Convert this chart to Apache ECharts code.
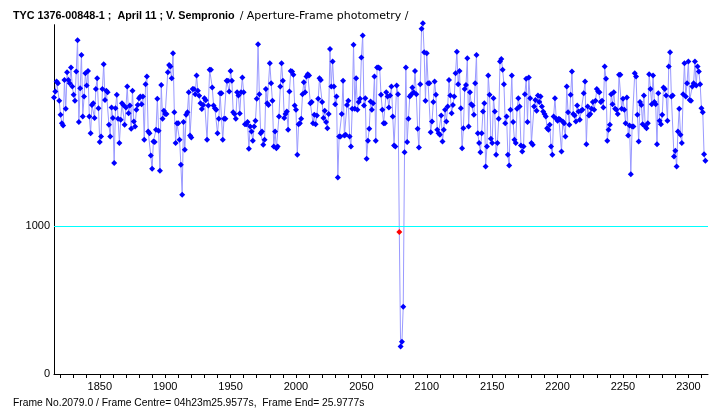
<!DOCTYPE html>
<html>
<head>
<meta charset="utf-8">
<title>TYC 1376-00848-1 light curve</title>
<script src="https://cdn.jsdelivr.net/npm/echarts@6/dist/echarts.min.js"></script>
<style>
  html, body { margin: 0; padding: 0; background: #fff; }
  #curve { width: 713px; height: 408px; }
</style>
</head>
<body>
<div id="curve"></div>
<script>
// First frame of the run; one flux reading per frame after that
var firstFrame = 1815;

// Flux readings, frames 1815 .. 2313
var flux = [
    // 1815 - 1935
    1868, 1909, 1976, 1965, 1846, 1751, 1695, 1679, 1987, 1792, 2039, 1987, 1965, 2070, 1942, 1886,
    1846, 2044, 2255, 1702, 1931, 2156, 1740, 1875, 2032, 1949, 2048, 1740, 1627, 1818, 1830, 1729,
    1926, 1998, 1796, 1567, 1605, 1926, 2093, 1852, 1913, 1904, 1684, 1605, 1801, 1729, 1425, 1796,
    1886, 1724, 1560, 1717, 1830, 1818, 1684, 1801, 1942, 1762, 1814, 1657, 1913, 1706, 1672, 1785,
    1818, 1863, 1875, 1823, 1875, 1582, 1958, 2010, 1638, 1627, 1476, 1386, 1571, 1567, 1650, 1859,
    1643, 1373, 1953, 1724, 1778, 1756, 1756, 2039, 2088, 2077, 1998, 2167, 1769, 1560, 1695, 1695,
    1582, 1413, 1211, 1702, 1515, 1751, 1769, 1904, 1611, 1598, 1926, 1926, 1890, 2016, 1913, 1880,
    1830, 1790, 1818, 1863, 1850, 1582, 1814, 2055,
    // 1936 - 2060
    2055, 1936, 1814, 1796, 1785, 1627, 1724, 1897, 1897, 1582, 1724, 1724, 1981, 1981, 1909, 2048,
    1981, 1769, 1756, 1724, 1904, 1881, 1760, 1904, 2003, 1904, 1688, 1688, 1702, 1522, 1672, 1638,
    1576, 1672, 1711, 1859, 2228, 1890, 1627, 1638, 1549, 1582, 1926, 1830, 1818, 2100, 1965, 1846,
    1537, 1638, 1526, 1537, 1740, 1942, 2100, 1981, 1729, 1756, 1774, 1650, 1909, 2048, 2044, 2021,
    1814, 1785, 1481, 1688, 1695, 1724, 1890, 1971, 1904, 2010, 2026, 2016, 1830, 1837, 1695, 1751,
    1688, 1746, 1859, 1998, 1987, 1837, 1729, 1778, 1702, 1661, 1756, 2196, 1942, 2111, 1942, 1823,
    1875, 1328, 1605, 1605, 1756, 1981, 1611, 1616, 1818, 1846, 1605, 1537, 1792, 2224, 1792, 1998,
    1785, 1837, 1859, 2138, 2287, 1814, 1863, 1454, 1576, 1657, 1841, 1785, 1830, 2010, 1576, 2070,
    // 2061 - 2078
    2070, 2066, 1886, 1785, 1695, 1695, 1904, 1875, 1801, 1881, 1942, 1740, 1544, 1537, 1949, 1890,
    // 2079 - 2082 : the event
    960, 185, 218, 455,
    // 2083 - 2186
    1499, 2070, 1567, 1724, 1875, 1886, 1936, 1904, 2048, 1890, 1657, 1531, 1958, 2332, 2370, 2174,
    1846, 2167, 1965, 1965, 1634, 1706, 1837, 1976, 1886, 1650, 1627, 1616, 1746, 1571, 1650, 1785,
    1706, 1807, 1987, 1881, 1762, 1818, 1875, 2032, 2178, 1958, 2048, 1796, 1526, 1661, 1926, 1953,
    2134, 1672, 1904, 1823, 1814, 1751, 1965, 2156, 1627, 1560, 1499, 1627, 1774, 1830, 1402, 1537,
    2016, 1886, 1589, 1560, 1863, 1774, 1481, 1560, 1724, 2111, 2129, 2055, 1958, 1695, 1740, 1481,
    1409, 1785, 2016, 1702, 1582, 1560, 1792, 1863, 1807, 1544, 1504, 1537, 1890, 1994, 1702, 2003,
    1863, 1560, 1549, 1807, 1852, 1778, 1881, 1837,
    // 2187 - 2313
    1875, 1807, 1774, 1756, 1740, 1661, 1650, 1684, 1537, 1481, 1740, 1863, 1724, 1711, 1724, 1717,
    1504, 1706, 1695, 1605, 1942, 1769, 1684, 1886, 2044, 1756, 1746, 1706, 1814, 1774, 1717, 1778,
    1785, 1897, 1976, 1553, 1807, 1746, 1756, 1792, 1837, 1785, 1846, 1926, 1909, 1904, 1837, 1846,
    1801, 2077, 1994, 1576, 1650, 1684, 1890, 1823, 1904, 1792, 1785, 1756, 2021, 2021, 1792, 1859,
    1785, 1695, 1868, 1611, 1679, 1350, 1672, 1672, 2032, 2010, 1751, 1571, 1837, 1818, 1688, 1881,
    1672, 1661, 1695, 2026, 1926, 1823, 2016, 1837, 1823, 1553, 1897, 1711, 1688, 1751, 1936, 1926,
    1881, 1711, 2077, 2174, 1875, 1881, 1470, 1508, 1402, 1638, 1792, 1616, 1560, 1890, 2100, 1875,
    1965, 2111, 1852, 1846, 1942, 1965, 2111, 1949, 2077, 2044, 1958, 1796, 1769, 1485, 1441
];

// Frame picked out in red
var markedFrame = 2079;

// Axis labels / ticks
var frameLabels = [1850, 1900, 1950, 2000, 2050, 2100, 2150, 2200, 2250, 2300];
var frameTicks = [];
for (var t = 1820; t <= 2310; t += 10) frameTicks.push(t);
var fluxLabels = [0, 1000];
var refLevel = 1000;

var chart = echarts.init(document.getElementById('curve'));

// Build points, the marked frame gets a red symbol
var points = flux.map(function (v, i) {
    var f = firstFrame + i;
    if (f === markedFrame) {
        return { value: [f, v], itemStyle: { color: '#ff0000' } };
    }
    return [f, v];
});

var plainText = function (v) { return String(v); };

chart.setOption({
    animation: false,
    backgroundColor: '#fff',
    textStyle: { fontFamily: '"Liberation Sans", Arial, sans-serif' },

    title: {
        left: 13,
        top: 7,
        padding: 0,
        text: '{b|TYC 1376-00848-1 ;  April 11 ; V. Sempronio} {n|/ Aperture-Frame photometry /}',
        textStyle: {
            fontWeight: 'normal',
            rich: {
                b: { fontSize: 10.8, fontWeight: 'bold', color: '#000', fontFamily: '"Liberation Sans", Arial, sans-serif' },
                n: { fontSize: 11, fontWeight: 'normal', color: '#000', fontFamily: '"DejaVu Sans", sans-serif' }
            }
        }
    },

    graphic: [{
        type: 'text',
        left: 13,
        top: 398,
        style: {
            text: 'Frame No.2079.0 / Frame Centre= 04h23m25.9577s,  Frame End= 25.9777s',
            fill: '#000',
            font: '10.3px "Liberation Sans", Arial, sans-serif'
        }
    }],

    grid: { left: 54, right: 5, top: 24.7, bottom: 34 },

    xAxis: {
        type: 'value',
        min: 1815,
        max: 2315,
        axisLine: { lineStyle: { color: '#000', width: 1 } },
        axisTick: { customValues: frameTicks, length: 4, lineStyle: { color: '#000' } },
        axisLabel: { customValues: frameLabels, formatter: plainText, color: '#000', fontSize: 11, margin: 7 },
        splitLine: { show: false }
    },

    yAxis: {
        type: 'value',
        min: 0,
        max: 2360,
        axisLine: { show: true, lineStyle: { color: '#000', width: 1 } },
        axisTick: { show: false },
        axisLabel: { customValues: fluxLabels, formatter: plainText, color: '#000', fontSize: 11, margin: 4 },
        splitLine: { show: false }
    },

    series: [{
        type: 'line',
        data: points,
        clip: false,
        symbol: 'diamond',
        symbolSize: 6,
        showAllSymbol: true,
        itemStyle: { color: '#0000ff' },
        lineStyle: { color: '#9a9aff', width: 1 },
        markLine: {
            silent: true,
            symbol: ['none', 'none'],
            label: { show: false },
            lineStyle: { color: '#00ffff', width: 1, type: 'solid' },
            data: [{ yAxis: refLevel }]
        }
    }]
});
</script>
</body>
</html>
